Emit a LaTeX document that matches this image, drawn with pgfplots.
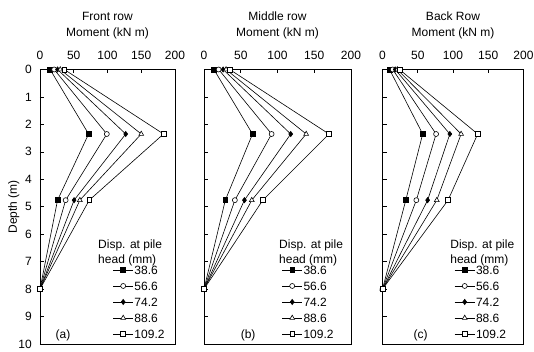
\documentclass[border=0pt,12pt]{standalone}
\usepackage{fontspec}
\setmainfont{Liberation Sans}
\usepackage{pgfplots}
\usepackage{pgfplotstable}
\pgfplotsset{compat=1.18}

% depth (m) vs moment (kN m) for pile-head displacement 38.6, 56.6, 74.2, 88.6, 109.2 mm
\pgfplotstableread{
d    m1   m2   m3    m4    m5
0    15   21   26    30    36
2.35 72   99   127   150   183
4.76 26   38   50.5  59    73
8    0    0    0     0     0
}\front
\pgfplotstableread{
d    m1   m2   m3    m4    m5
0    13.5 20   26    30    35
2.35 66   92   118   139   170
4.76 29   42   55    65    80
8    0    0    0     0     0
}\middle
\pgfplotstableread{
d    m1   m2   m3    m4    m5
0    10   14.5 18    21    24
2.35 57   76   95.5  111.5 135
4.76 33   48   64    77    93
8    0    0    0     0     0
}\back

\pgfplotsset{
  panel/.style={
    scale only axis, height=274.5pt, anchor=south west,
    xmin=0, xmax=200, ymin=0, ymax=10, y dir=reverse,
    xtick={0,50,...,200}, ytick={0,1,...,10},
    xtick pos=right, xticklabel pos=right, ytick pos=left,
    tick align=inside, major tick length=4pt,
    axis line style={line width=0.9pt},
    every tick/.style={black, line width=0.6pt},
    /pgf/number format/assume math mode=true,
    tick label style={font=\normalsize},
    xticklabel style={yshift=6pt},
    yticklabel style={xshift=-4pt},
    xlabel style={align=center, font=\normalsize, yshift=4pt},
    ylabel shift=-9pt,
    legend style={draw=none, fill=none, inner sep=0pt, outer sep=0pt,
      anchor=north west, row sep=5.4pt,
      nodes={inner sep=1pt, text height=8.6pt, text depth=0pt, anchor=west},
      font=\normalsize},
    legend cell align=left,
    legend image code/.code={%
      \draw[mark repeat=2,mark phase=2,##1] plot coordinates {(0pt,0pt)(10pt,0pt)(20pt,0pt)};},
  },
  s1/.style={black, line width=0.6pt, mark=square*, mark size=2.4pt, mark options={solid, fill=black}},
  s2/.style={black, line width=0.6pt, mark=*, mark size=2.5pt, mark options={solid, fill=white}},
  s3/.style={black, line width=0.6pt, mark=diamond*, mark size=2.6pt, mark options={solid, fill=black}},
  s4/.style={black, line width=0.6pt, mark=triangle*, mark size=2.8pt, mark options={solid, fill=white}},
  s5/.style={black, line width=0.6pt, mark=square*, mark size=2.4pt, mark options={solid, fill=white}},
}

\begin{document}
\begin{tikzpicture}
\path[use as bounding box] (0pt,0pt) rectangle (534pt,352pt);

% (a) Front row
\begin{axis}[panel, at={(40pt,8pt)}, width=135pt,
  xlabel={Front row\\[1.5pt]Moment (kN m)}, ylabel={Depth (m)},
  legend style={at={(0.54,0.289)}}]
\addplot[s1] table[x=m1,y=d]{\front}; \addlegendentry{38.6}
\addplot[s2] table[x=m2,y=d]{\front}; \addlegendentry{56.6}
\addplot[s3] table[x=m3,y=d]{\front}; \addlegendentry{74.2}
\addplot[s4] table[x=m4,y=d]{\front}; \addlegendentry{88.6}
\addplot[s5] table[x=m5,y=d]{\front}; \addlegendentry{109.2}
\node[anchor=south west, align=left, inner sep=0pt] at (rel axis cs:0.43,0.284) {Disp. at pile\\head (mm)};
\node at (rel axis cs:0.17,0.033) {(a)};
\end{axis}

% (b) Middle row
\begin{axis}[panel, at={(204pt,8pt)}, width=147pt, yticklabels={},
  xlabel={Middle row\\[1.5pt]Moment (kN m)},
  legend style={at={(0.53,0.289)}}]
\addplot[s1] table[x=m1,y=d]{\middle}; \addlegendentry{38.6}
\addplot[s2] table[x=m2,y=d]{\middle}; \addlegendentry{56.6}
\addplot[s3] table[x=m3,y=d]{\middle}; \addlegendentry{74.2}
\addplot[s4] table[x=m4,y=d]{\middle}; \addlegendentry{88.6}
\addplot[s5] table[x=m5,y=d]{\middle}; \addlegendentry{109.2}
\node[anchor=south west, align=left, inner sep=0pt] at (rel axis cs:0.51,0.284) {Disp. at pile\\head (mm)};
\node at (rel axis cs:0.3,0.033) {(b)};
\end{axis}

% (c) Back row
\begin{axis}[panel, at={(382.5pt,8pt)}, width=141pt, yticklabels={},
  xlabel={Back Row\\[1.5pt]Moment (kN m)},
  legend style={at={(0.51,0.289)}}]
\addplot[s1] table[x=m1,y=d]{\back}; \addlegendentry{38.6}
\addplot[s2] table[x=m2,y=d]{\back}; \addlegendentry{56.6}
\addplot[s3] table[x=m3,y=d]{\back}; \addlegendentry{74.2}
\addplot[s4] table[x=m4,y=d]{\back}; \addlegendentry{88.6}
\addplot[s5] table[x=m5,y=d]{\back}; \addlegendentry{109.2}
\node[anchor=south west, align=left, inner sep=0pt] at (rel axis cs:0.48,0.284) {Disp. at pile\\head (mm)};
\node at (rel axis cs:0.27,0.033) {(c)};
\end{axis}
\end{tikzpicture}
\end{document}
